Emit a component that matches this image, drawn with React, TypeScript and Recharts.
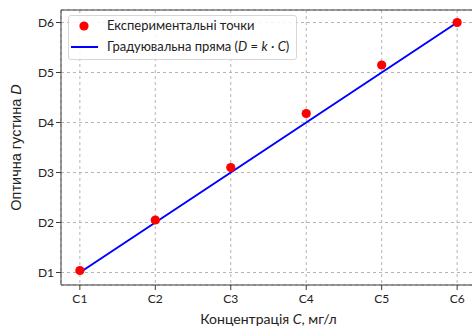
import { ComposedChart, Scatter, XAxis, YAxis, CartesianGrid, ReferenceLine } from 'recharts';

// концентрації (умовні одиниці C1..C6)
const concentrations = [1, 2, 3, 4, 5, 6];
// виміряна оптична густина
const measuredD = [1.04, 2.05, 3.1, 4.18, 5.15, 6.0];
// градуювальна пряма D = k·C
const fitD = [1, 2, 3, 4, 5, 6];
const xTickLabels = ['C1', 'C2', 'C3', 'C4', 'C5', 'C6'];
const yTickLabels = ['D1', 'D2', 'D3', 'D4', 'D5', 'D6'];

const points = concentrations.map((c, i) => ({ x: c, y: measuredD[i] }));
const fitLine = concentrations.map((c, i) => ({ x: c, y: fitD[i] }));

const FONT = 'Lato, "Noto Sans", sans-serif';
const SPINE = '#3a3a3a';

const RedDot = (props: any) => <circle cx={props.cx} cy={props.cy} r={4.6} fill="#ff0000" />;
const NoDot = () => <g />;

// підписи осей з курсивними літерами
const XLabel = ({ viewBox }: any) => (
  <text x={viewBox.x + viewBox.width / 2} y={324} textAnchor="middle" fontSize={14} fill="#222" fontFamily={FONT}>
    Концентрація <tspan fontStyle="italic">C</tspan>, мг/л
  </text>
);

const YLabel = ({ viewBox }: any) => {
  const cy = viewBox.y + viewBox.height / 2;
  return (
    <text x={21} y={cy} transform={`rotate(-90 21 ${cy})`} textAnchor="middle" fontSize={14.5} fill="#222" fontFamily="'Liberation Sans', Arial, sans-serif">
      Оптична густина <tspan fontStyle="italic">D</tspan>
    </text>
  );
};

const LegendBox = () => (
  <div
    style={{
      position: 'absolute', left: 68, top: 15, width: 229, height: 45, boxSizing: 'border-box',
      background: 'rgba(255,255,255,0.85)', border: '1px solid #d6d6d6', borderRadius: 3,
      fontFamily: FONT, fontSize: 13, color: '#222',
    }}
  >
    <svg width={40} height={45} style={{ position: 'absolute', left: 0, top: 0 }}>
      <circle cx={15} cy={10} r={4.6} fill="#ff0000" />
      <line x1={2} x2={29} y1={31} y2={31} stroke="#0000ff" strokeWidth={2} />
    </svg>
    <div style={{ position: 'absolute', left: 38, top: 1, whiteSpace: 'nowrap' }}>Експериментальні точки</div>
    <div style={{ position: 'absolute', left: 38, top: 22, whiteSpace: 'nowrap' }}>
      Градуювальна пряма (<i>D</i> = <i>k</i> · <i>C</i>)
    </div>
  </div>
);

export default function App() {
  return (
    <div style={{ position: 'fixed', left: 0, top: 0, width: 472, height: 326, overflow: 'hidden', background: '#fff' }}>
      <ComposedChart width={480} height={326} margin={{ top: 10, right: 4, left: 0, bottom: 0 }}>
        <CartesianGrid stroke="#b5b5b5" strokeDasharray="3 3" />
        <XAxis
          type="number" dataKey="x" domain={[0.75, 6.25]} ticks={concentrations} height={41}
          tickFormatter={(v: number) => xTickLabels[v - 1]} stroke={SPINE} tickSize={5}
          tick={{ fontSize: 12, fill: '#222', fontFamily: FONT, dy: 2 }}
          label={<XLabel />}
        />
        <YAxis
          type="number" dataKey="y" domain={[0.75, 6.25]} ticks={concentrations} width={61}
          tickFormatter={(v: number) => yTickLabels[v - 1]} stroke={SPINE} tickSize={5}
          tick={{ fontSize: 12, fill: '#222', fontFamily: FONT }}
          label={<YLabel />}
        />
        <ReferenceLine y={6.25} stroke={SPINE} ifOverflow="visible" />
        <ReferenceLine x={6.25} stroke={SPINE} ifOverflow="visible" />
        <Scatter data={fitLine} line={{ stroke: '#0000ff', strokeWidth: 2 }} shape={NoDot} isAnimationActive={false} />
        <Scatter data={points} shape={RedDot} isAnimationActive={false} />
      </ComposedChart>
      <LegendBox />
    </div>
  );
}
